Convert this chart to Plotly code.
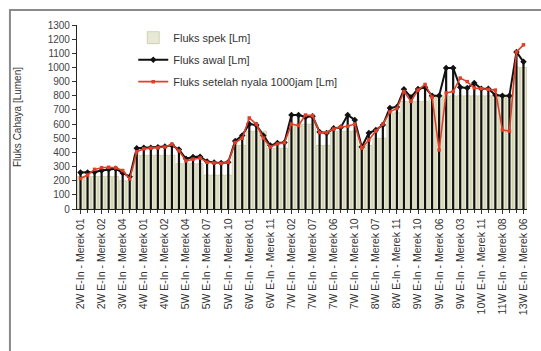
import plotly.graph_objects as go

# ---- data ----
tick_labels = [
    "2W E-In - Merek 01", "2W E-In - Merek 02", "3W E-In - Merek 04",
    "4W E-In - Merek 01", "4W E-In - Merek 02", "5W E-In - Merek 04",
    "5W E-In - Merek 07", "5W E-In - Merek 10", "6W E-In - Merek 01",
    "6W E-In - Merek 11", "7W E-In - Merek 02", "7W E-In - Merek 07",
    "7W E-In - Merek 06", "7W E-In - Merek 10", "8W E-In - Merek 07",
    "8W E-In - Merek 11", "9W E-In - Merek 10", "9W E-In - Merek 06",
    "9W E-In - Merek 03", "10W E-In - Merek 11", "11W E-In - Merek 08",
    "13W E-In - Merek 06",
]
label_step = 3

fluks_spek = [
    230, 230, 230, 230, 230, 230, 200, 200,
    380, 380, 380, 380, 380, 380,
    320, 320, 320, 320,
    240, 240, 240, 240,
    450, 450,
    550, 550, 550,
    430, 430, 430,
    600, 600, 600, 600,
    450, 450,
    550, 550, 550, 550,
    450, 450, 500, 500,
    680, 680,
    760, 760, 760, 760,
    800, 800, 800, 800, 800, 800, 800, 800, 800, 800, 800, 800,
    1000, 1000,
]

fluks_awal = [
    258, 258, 262, 272, 280, 285, 255, 228,
    430, 432, 433, 436, 442, 450, 420,
    355, 368, 370, 335, 328, 325, 330,
    480, 520, 600, 594, 520, 448, 466, 470,
    664, 664, 650, 655, 544, 537, 570, 575, 664, 629,
    438, 537, 558, 594, 714, 721, 846, 790, 848, 860,
    800, 800, 996, 996, 860, 855, 890, 850, 850, 805,
    800, 800, 1110, 1040,
]

fluks_1000jam = [
    215, 240, 280, 292, 295, 292, 272, 212,
    405, 425, 430, 432, 438, 458, 412,
    340, 352, 360, 330, 325, 322, 330,
    470, 500, 643, 600, 500, 438, 460, 468,
    600, 590, 664, 660, 540, 540, 565, 580, 585, 600,
    430, 488, 550, 600, 686, 710, 830, 760, 840, 880,
    790, 417, 820, 830, 925, 900, 855, 850, 845, 840,
    558, 550, 1110, 1160,
]

x = list(range(len(fluks_awal)))
tickvals = x[::label_step]

fig = go.Figure()

fig.add_trace(go.Bar(
    x=x, y=fluks_spek, name="Fluks spek [Lm]", legendgroup="a",
    marker=dict(color="#e8e8d6", line=dict(color="#b4b47a", width=0.5)),
))

fig.add_trace(go.Scatter(
    x=x, y=fluks_awal, name="Fluks awal [Lm]", legendgroup="b",
    mode="lines+markers",
    line=dict(color="#111111", width=2),
    marker=dict(symbol="diamond", size=5, color="#111111"),
    error_y=dict(visible=True, type="data", symmetric=False,
                 array=[0] * len(fluks_awal), arrayminus=fluks_awal,
                 width=0, thickness=2.2, color="#111111"),
))

fig.add_trace(go.Scatter(
    x=x, y=fluks_1000jam, name="Fluks setelah nyala 1000jam [Lm]", legendgroup="c",
    mode="lines+markers",
    line=dict(color="#e0402a", width=1.6),
    marker=dict(symbol="square", size=3.5, color="#e0402a"),
))

fig.update_layout(
    width=541, height=351,
    margin=dict(l=77, r=14, t=25, b=142),
    paper_bgcolor="white", plot_bgcolor="white",
    font=dict(family="Liberation Sans, Arial, sans-serif", color="#333333"),
    bargap=0.12,
    showlegend=True,
    legend=dict(x=0.125, y=1.01, xanchor="left", yanchor="top",
                bgcolor="rgba(0,0,0,0)", font=dict(size=11),
                tracegroupgap=3, traceorder="grouped"),
    shapes=[dict(type="rect", xref="paper", yref="paper",
                 x0=-0.149, x1=1.05, y0=-0.78, y1=1.081,
                 line=dict(color="#8a8a8a", width=2))],
)

fig.update_xaxes(
    range=[-0.5, len(x) - 0.5],
    tickmode="array", tickvals=tickvals, ticktext=tick_labels,
    tickangle=-90, tickfont=dict(size=10.5, color="#333333"),
    ticks="outside", ticklen=4, tickcolor="#333",
    minor=dict(dtick=1, ticks="outside", ticklen=3, tickcolor="#333"),
    showline=True, linecolor="#222", linewidth=1.2,
    showgrid=False, zeroline=False,
)

fig.update_yaxes(
    range=[0, 1300], dtick=100,
    ticks="outside", ticklen=4, tickcolor="#333",
    tickfont=dict(size=10, color="#444444"),
    showline=True, linecolor="#222", linewidth=1.2,
    showgrid=False, zeroline=False,
    title=dict(text="Fluks Cahaya [Lumen]", font=dict(size=10, color="#333333"), standoff=24),
)

fig.write_html("out.html")
